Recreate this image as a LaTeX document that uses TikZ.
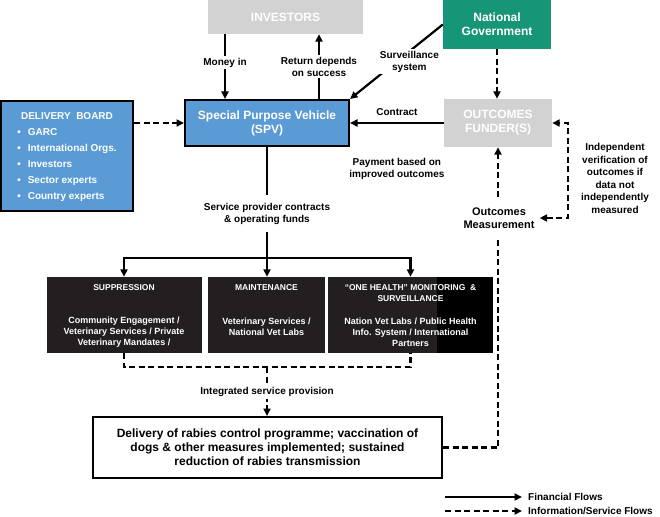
\documentclass[tikz,border=0pt]{standalone}
\usepackage{fontspec}
\setmainfont{Liberation Sans}
\usetikzlibrary{arrows.meta, positioning}
\definecolor{spvblue}{RGB}{91,155,213}
\definecolor{govgreen}{RGB}{22,150,118}
\definecolor{fundgrey}{RGB}{210,210,210}
\definecolor{boxdark}{RGB}{35,31,32}
\tikzset{>={Triangle[length=7.5pt,width=7pt]},
every node/.style={align=center, inner sep=0pt},
greybox/.style={fill=fundgrey, text=white, font=\bfseries\fontsize{12}{14}\selectfont},
greenbox/.style={fill=govgreen, text=white, font=\bfseries\fontsize{12}{14}\selectfont},
bluebox/.style={fill=spvblue, draw=black, line width=2pt, text=white},
darkbox/.style={fill=boxdark, text=white, minimum height=76pt, font=\bfseries\fontsize{9}{11}\selectfont},
lbl/.style={fill=white, inner sep=2pt, font=\bfseries\fontsize{10}{12}\selectfont},
fin/.style={->, line width=2.2pt},
infoline/.style={line width=2.2pt, dash pattern=on 6pt off 3.5pt},
info/.style={infoline, ->},
}

\begin{document}
\begin{tikzpicture}[x=1pt, y=-1pt]
    \useasboundingbox (0,0) rectangle (660,516);
    % top row
    \node[greybox, minimum width=155pt, minimum height=34pt] (inv) at (285.5,17) {INVESTORS};
    \node[greenbox, minimum width=108pt, minimum height=49pt] (gov) at (497,24.5) {National\\Government};
    % middle row
    \node[bluebox, minimum width=132pt, minimum height=110pt, font=\bfseries\fontsize{10}{12}\selectfont] (board) at (67,156) {\def\arraystretch{1.33}%
        \begin{tabular}{@{}l@{\hspace{7pt}}l@{}}
        \multicolumn{2}{@{}c@{}}{DELIVERY\ \ BOARD}\\
        \textbullet & GARC\\
        \textbullet & International Orgs.\\
        \textbullet & Investors\\
        \textbullet & Sector experts\\
        \textbullet & Country experts
        \end{tabular}};
    \node[bluebox, minimum width=164pt, minimum height=46pt, font=\bfseries\fontsize{12}{14}\selectfont] (spv) at (267,123) {Special Purpose Vehicle\\(SPV)};
    \node[greybox, minimum width=108pt, minimum height=48pt] (fund) at (498,123) {OUTCOMES\\FUNDER(S)};
    \node[font=\bfseries\fontsize{11}{13}\selectfont, inner xsep=5pt, inner ysep=10pt] (meas) at (499,218) {Outcomes\\Measurement};
    \node[font=\bfseries\fontsize{10}{12.6}\selectfont] (verif) at (615,178.5) {Independent\\verification of\\outcomes if\\data not\\independently\\measured};
    % service providers
    \node[darkbox, minimum width=155pt] (sup) at (124,315) {\parbox[t][60pt][t]{150pt}{\centering\fontsize{8.5}{11}\selectfont SUPPRESSION\\[22pt]
        \fontsize{9}{11}\selectfont Community Engagement /\\Veterinary Services / Private\\Veterinary Mandates /}};
    \node[darkbox, minimum width=117pt] (mnt) at (266.5,315) {\parbox[t][60pt][t]{112pt}{\centering\fontsize{8.5}{11}\selectfont MAINTENANCE\\[23pt]
        \fontsize{9}{11}\selectfont Veterinary Services /\\National Vet Labs}};
    \node[darkbox, minimum width=165pt, path picture={\fill[black] ([xshift=-56pt]path picture bounding box.north east) rectangle (path picture bounding box.south east);}] (one) at (410.5,315) {\parbox[t][60pt][t]{160pt}{\centering\fontsize{8.5}{11}\selectfont “ONE HEALTH” MONITORING \ \&\\SURVEILLANCE\\[12pt]
        \fontsize{9}{11}\selectfont Nation Vet Labs / Public Health\\Info. System / International\\Partners}};
    \node[draw=black, line width=2pt, minimum width=349pt, minimum height=61pt, font=\bfseries\fontsize{12}{14}\selectfont] (rab) at (267.5,447.5) {Delivery of rabies control programme; vaccination of\\dogs \& other measures implemented; sustained\\reduction of rabies transmission};
    % legend
    \coordinate (finstart) at (445,497);
    \coordinate (infostart) at (445,511);
    \node[anchor=west, font=\bfseries\fontsize{10}{12}\selectfont] (fintxt) at (528,497) {Financial Flows};
    \node[anchor=west, font=\bfseries\fontsize{10}{12}\selectfont] (infotxt) at (528,511) {Information/Service Flows};
    \coordinate (split) at (267,258);
    \coordinate (merge) at (267,367);

    \draw[fin]
        ([xshift=-60.5pt]inv.south) -- ([xshift=-60.5pt]inv.south |- spv.north) node[lbl, pos=0.44]{Money in};
    \draw[fin]
        ([xshift=52pt]spv.north) -- ([xshift=52pt]spv.north |- inv.south) node[lbl, pos=0.5]{Return depends\\on success};
    \draw[fin]
        (gov.west) -- (spv.north east) node[lbl, pos=0.5, xshift=13pt]{Surveillance\\system};
    \draw[fin]
        (fund.west) -- (spv.east) node[pos=0.5, above=6pt, font=\bfseries\fontsize{10}{12}\selectfont]{Contract}
                                  node[pos=0.5, below=34pt, font=\bfseries\fontsize{10}{12}\selectfont]{Payment based on\\improved outcomes};
    \draw[info] (board.east |- spv.west) -- (spv.west);
    \draw[info] (gov.south) -- (gov.south |- fund.north);
    \draw[info] (fund.south |- meas.north) -- (fund.south);
    \draw[infoline, <->] (meas.east) -- ++(28,0) |- (fund.east);
    \draw[infoline] (rab.east) -| (fund.south |- meas.south);
    % contracts to providers
    \draw[line width=2.2pt] (spv.south) -- (split) node[lbl, pos=0.6, inner ysep=8pt]{Service provider contracts\\\& operating funds};
    \draw[fin] (split) -| (sup.north);
    \draw[fin] (split) -- (split |- mnt.north);
    \draw[fin] (split) -| (one.north);
    % integrated service
    \draw[infoline] (sup.south) |- (merge) -| (one.south);
    \draw[info] (merge) -- (merge |- rab.north) node[lbl, pos=0.5, inner ysep=3pt]{Integrated service provision};
    % legend
    \draw[fin] (finstart) -- ([xshift=-6pt]fintxt.west);
    \draw[info] (infostart) -- ([xshift=-6pt]infotxt.west);
\end{tikzpicture}
\end{document}
